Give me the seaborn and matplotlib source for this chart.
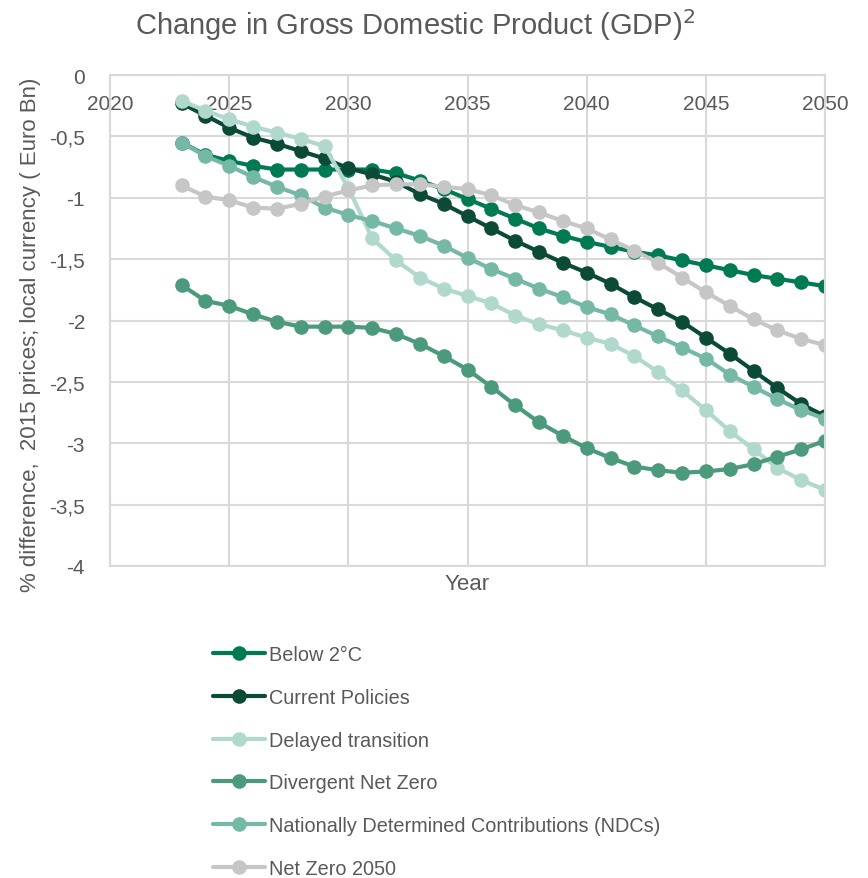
import numpy as np
import pandas as pd
import matplotlib
matplotlib.use("Agg")
import matplotlib.pyplot as plt
import seaborn as sns

years = list(range(2023, 2051))

below_2c = [-0.55, -0.65, -0.70, -0.74, -0.77, -0.77, -0.77, -0.77, -0.77, -0.80,
            -0.86, -0.93, -1.01, -1.09, -1.17, -1.25, -1.31, -1.36, -1.40, -1.44,
            -1.47, -1.51, -1.55, -1.59, -1.63, -1.66, -1.69, -1.72]
current_policies = [-0.23, -0.33, -0.43, -0.51, -0.56, -0.62, -0.68, -0.76, -0.81, -0.87,
                    -0.97, -1.05, -1.15, -1.25, -1.35, -1.44, -1.53, -1.61, -1.70, -1.81,
                    -1.91, -2.01, -2.14, -2.27, -2.41, -2.55, -2.68, -2.78]
delayed_transition = [-0.21, -0.29, -0.36, -0.42, -0.47, -0.52, -0.58, -0.92, -1.33, -1.51,
                      -1.65, -1.74, -1.80, -1.86, -1.96, -2.03, -2.08, -2.14, -2.19, -2.29,
                      -2.42, -2.57, -2.73, -2.90, -3.05, -3.20, -3.30, -3.38]
divergent_net_zero = [-1.71, -1.84, -1.88, -1.95, -2.01, -2.05, -2.05, -2.05, -2.06, -2.11,
                      -2.19, -2.29, -2.40, -2.54, -2.69, -2.83, -2.94, -3.04, -3.12, -3.19,
                      -3.22, -3.24, -3.23, -3.21, -3.17, -3.11, -3.05, -2.98]
ndcs = [-0.55, -0.66, -0.74, -0.83, -0.91, -0.98, -1.08, -1.14, -1.19, -1.25,
        -1.31, -1.39, -1.49, -1.58, -1.66, -1.74, -1.81, -1.89, -1.95, -2.04,
        -2.13, -2.22, -2.31, -2.44, -2.54, -2.64, -2.73, -2.80]
net_zero_2050 = [-0.90, -0.99, -1.02, -1.08, -1.09, -1.05, -0.99, -0.94, -0.90, -0.89,
                 -0.89, -0.91, -0.93, -0.98, -1.06, -1.12, -1.19, -1.25, -1.34, -1.43,
                 -1.53, -1.65, -1.77, -1.88, -1.99, -2.08, -2.15, -2.20]

scenarios = ["Below 2°C", "Current Policies", "Delayed transition",
             "Divergent Net Zero", "Nationally Determined Contributions (NDCs)",
             "Net Zero 2050"]
colors = ["#007a53", "#0b4a36", "#b1d8cc", "#4a9a7b", "#76b8a6", "#c6c6c6"]
series = [below_2c, current_policies, delayed_transition,
          divergent_net_zero, ndcs, net_zero_2050]

x_ticks = [2020, 2025, 2030, 2035, 2040, 2045, 2050]
y_ticks = [0, -0.5, -1, -1.5, -2, -2.5, -3, -3.5, -4]
y_tick_labels = ["0", "-0,5", "-1", "-1,5", "-2", "-2,5", "-3", "-3,5", "-4"]

df = pd.DataFrame({
    "Year": years * len(scenarios),
    "Value": np.concatenate(series),
    "Scenario": np.repeat(scenarios, len(years)),
})

sns.set_theme(style="white")
plt.rcParams['font.family'] = ['Liberation Sans', 'DejaVu Sans']
text_col = "#595959"
grid_col = "#d9d9d9"

fig = plt.figure(figsize=(8.68, 8.79), dpi=100)
ax = fig.add_axes([110 / 868, 1 - 567 / 879, 715 / 868, 491 / 879])

sns.lineplot(data=df, x="Year", y="Value", hue="Scenario", hue_order=scenarios,
             palette=dict(zip(scenarios, colors)), marker="o", markersize=10.5,
             markeredgewidth=0, linewidth=3, ax=ax)

ax.set_xlim(2020, 2050)
ax.set_ylim(-4, 0)
ax.set_xticks(x_ticks)
ax.set_yticks(y_ticks)
ax.set_yticklabels(y_tick_labels)
ax.xaxis.tick_top()
ax.tick_params(axis="x", length=0, pad=-27, labelsize=15, colors=text_col)
ax.tick_params(axis="y", length=0, pad=18, labelsize=15, colors=text_col)
ax.grid(True, color=grid_col, linewidth=1.5)
for s in ax.spines.values():
    s.set_color(grid_col)
    s.set_linewidth(1.5)

ax.set_xlabel("")
ax.set_ylabel("")
fig.text(467 / 868, 1 - 585 / 879, "Year", ha="center", va="center",
         fontsize=16, color=text_col)
fig.text(31 / 868, 1 - 335 / 879, "% difference,  2015 prices; local currency ( Euro Bn)",
         rotation=90, ha="center", va="center", fontsize=16, color=text_col)
fig.text(415 / 868, 1 - 25 / 879, "Change in Gross Domestic Product (GDP)$^2$",
         ha="center", va="center", fontsize=21, color=text_col)

leg = ax.legend(loc="upper left", bbox_to_anchor=(195 / 868, 1 - 628 / 879),
                bbox_transform=fig.transFigure, frameon=False, fontsize=14.3,
                handlelength=2.6, handletextpad=0.25, labelspacing=1.2)
for t in leg.get_texts():
    t.set_color(text_col)

fig.savefig("out.png", dpi=100)
